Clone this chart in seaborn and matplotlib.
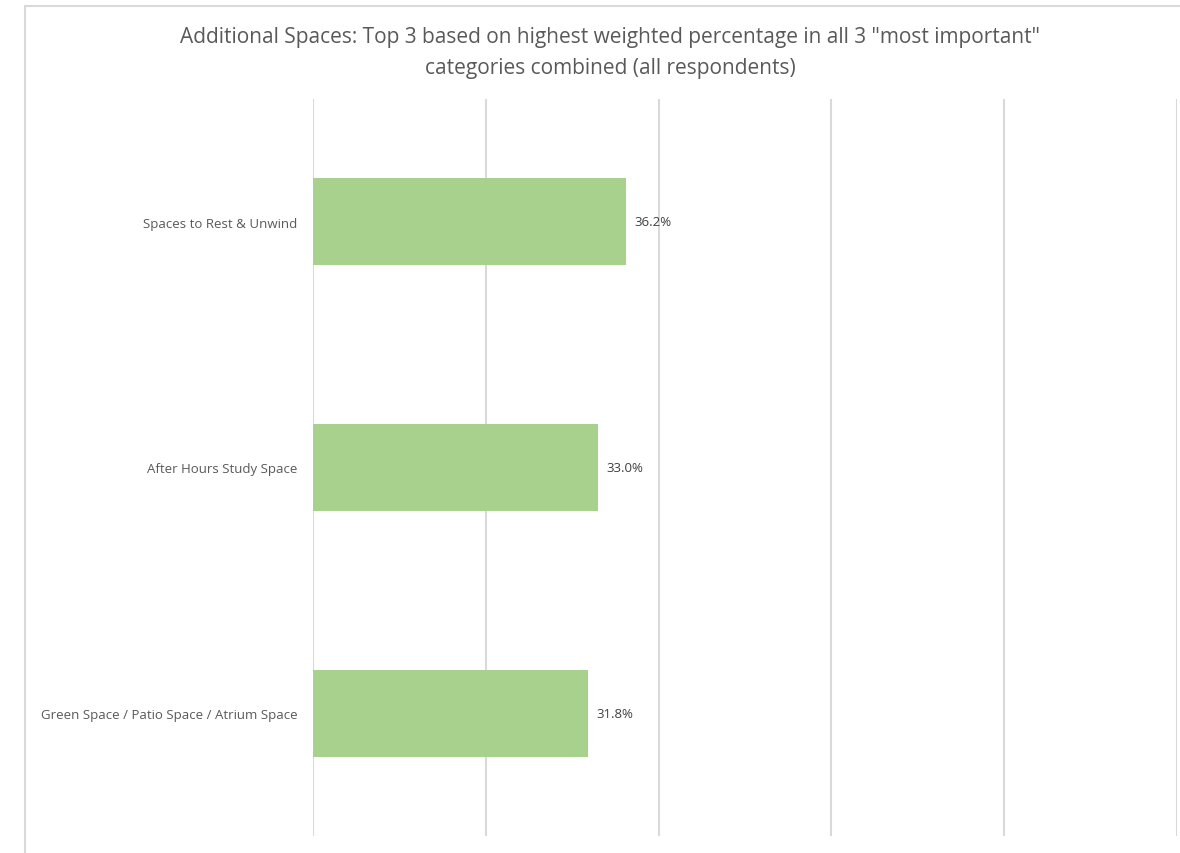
import seaborn as sns
import matplotlib.pyplot as plt
import pandas as pd
from matplotlib.lines import Line2D

sns.set_style("white")
plt.rcParams['font.family'] = ['Open Sans', 'DejaVu Sans']

# Data
categories = ["Spaces to Rest & Unwind", "After Hours Study Space",
              "Green Space / Patio Space / Atrium Space"]
values = [36.2, 33.0, 31.8]

df = pd.DataFrame({"Space": categories, "Pct": values})

fig = plt.figure(figsize=(11.8, 8.54), dpi=100)
ax = fig.add_axes([313 / 1180, 1 - 837 / 854, (1177 - 313) / 1180, (837 - 100) / 854])

sns.barplot(data=df, x="Pct", y="Space", orient="h", color="#A9D18E",
            saturation=1, width=0.354, linewidth=0, ax=ax)

ax.set_xlim(0, 100)
ax.set_xticks([0, 20, 40, 60, 80, 100])
ax.grid(axis="x", color="#d9d9d9", linewidth=1.5)
ax.set_axisbelow(True)
ax.tick_params(axis="x", length=0, labelbottom=False)
ax.tick_params(axis="y", length=0, pad=11, labelsize=9.5, labelcolor="#595959")
ax.set_xlabel("")
ax.set_ylabel("")
for s in ax.spines.values():
    s.set_visible(False)

for bar, v in zip(ax.patches, values):
    ax.text(bar.get_width() + 1.0, bar.get_y() + bar.get_height() / 2, f"{v:.1f}%",
            va="center", ha="left", fontsize=9.5, color="#404040")

fig.text(0.517, 1 - 53 / 854, 'Additional Spaces: Top 3 based on highest weighted percentage in all 3 "most important"\ncategories combined (all respondents)',
         ha="center", va="center", fontsize=15, color="#595959", linespacing=1.6)

# chart border (cropped on the right and bottom)
x0 = 25 / 1180
y0 = 1 - 7 / 854
fig.add_artist(Line2D([x0, x0], [0, y0], transform=fig.transFigure, color="#d9d9d9", lw=1.5))
fig.add_artist(Line2D([x0, 1], [y0, y0], transform=fig.transFigure, color="#d9d9d9", lw=1.5))

fig.savefig("out.png", dpi=100)
